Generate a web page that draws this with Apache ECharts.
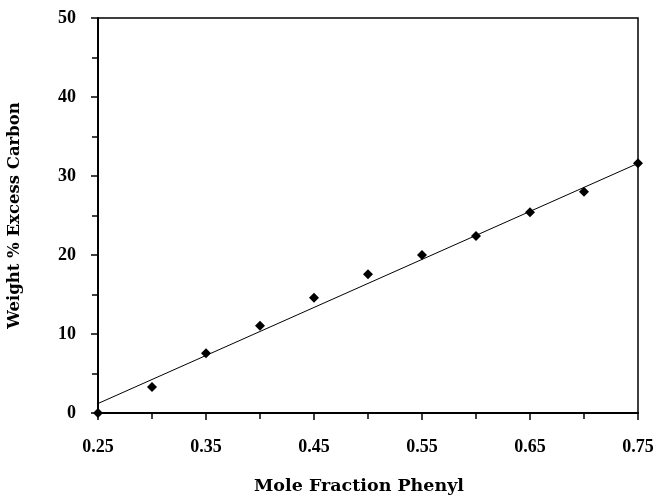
<!DOCTYPE html>
<html>
<head>
<meta charset="utf-8">
<script src="https://cdn.jsdelivr.net/npm/echarts@6/dist/echarts.min.js"></script>
<style>
  html, body { margin: 0; padding: 0; background: #fff; }
  #main { width: 654px; height: 495px; }
</style>
</head>
<body>
<div id="main"></div>
<script>
// measured points
const moleFraction = [0.25, 0.30, 0.35, 0.40, 0.45, 0.50, 0.55, 0.60, 0.65, 0.70, 0.75]
const excessCarbon = [0, 3.3, 7.55, 11.05, 14.6, 17.55, 20.0, 22.4, 25.4, 28.0, 31.6]
// fitted line end points
const fitX = [0.25, 0.75]
const fitY = [1.2, 31.6]

const chart = echarts.init(document.getElementById('main'))
const tickFont = '"Liberation Serif", "Times New Roman", serif'
const nameFont = '"DejaVu Serif", serif'

const option = {
  animation: false,
  grid: {
    left: 98, right: 16, top: 18, bottom: 82,
    outerBoundsMode: 'none',
    show: true, borderColor: '#000', borderWidth: 1.5
  },
  xAxis: {
    type: 'value',
    min: 0.25, max: 0.75, interval: 0.1,
    name: 'Mole Fraction Phenyl',
    nameLocation: 'middle',
    nameGap: 64,
    nameTextStyle: {
      fontFamily: nameFont, fontWeight: 'bold', fontSize: 17.5, color: '#000',
      padding: [0, 18, 0, 0]
    },
    axisLine: { lineStyle: { color: '#000', width: 2 } },
    axisTick: { show: true, length: 7, lineStyle: { color: '#000', width: 1.5 } },
    minorTick: { show: true, splitNumber: 2, length: 6, lineStyle: { color: '#000', width: 1.5 } },
    axisLabel: {
      fontFamily: tickFont, fontWeight: 'bold', fontSize: 18, color: '#000', margin: 25,
      formatter: v => v.toFixed(2)
    },
    splitLine: { show: false }
  },
  yAxis: {
    type: 'value',
    min: 0, max: 50, interval: 10,
    name: 'Weight % Excess Carbon',
    nameLocation: 'middle',
    nameGap: 75,
    nameTextStyle: { fontFamily: nameFont, fontWeight: 'bold', fontSize: 16.5, color: '#000' },
    axisLine: { show: true, lineStyle: { color: '#000', width: 2 } },
    axisTick: { show: true, length: 7, lineStyle: { color: '#000', width: 1.5 } },
    minorTick: { show: true, splitNumber: 2, length: 6, lineStyle: { color: '#000', width: 1.5 } },
    axisLabel: { fontFamily: tickFont, fontWeight: 'bold', fontSize: 18, color: '#000', margin: 22 },
    splitLine: { show: false }
  },
  series: [
    {
      type: 'line',
      data: fitX.map((x, i) => [x, fitY[i]]),
      symbol: 'none',
      lineStyle: { color: '#000', width: 1 },
      z: 2
    },
    {
      type: 'scatter',
      data: moleFraction.map((x, i) => [x, excessCarbon[i]]),
      symbol: 'diamond',
      symbolSize: 10,
      itemStyle: { color: '#000', opacity: 1 },
      z: 3
    }
  ]
}
chart.setOption(option)
</script>
</body>
</html>
